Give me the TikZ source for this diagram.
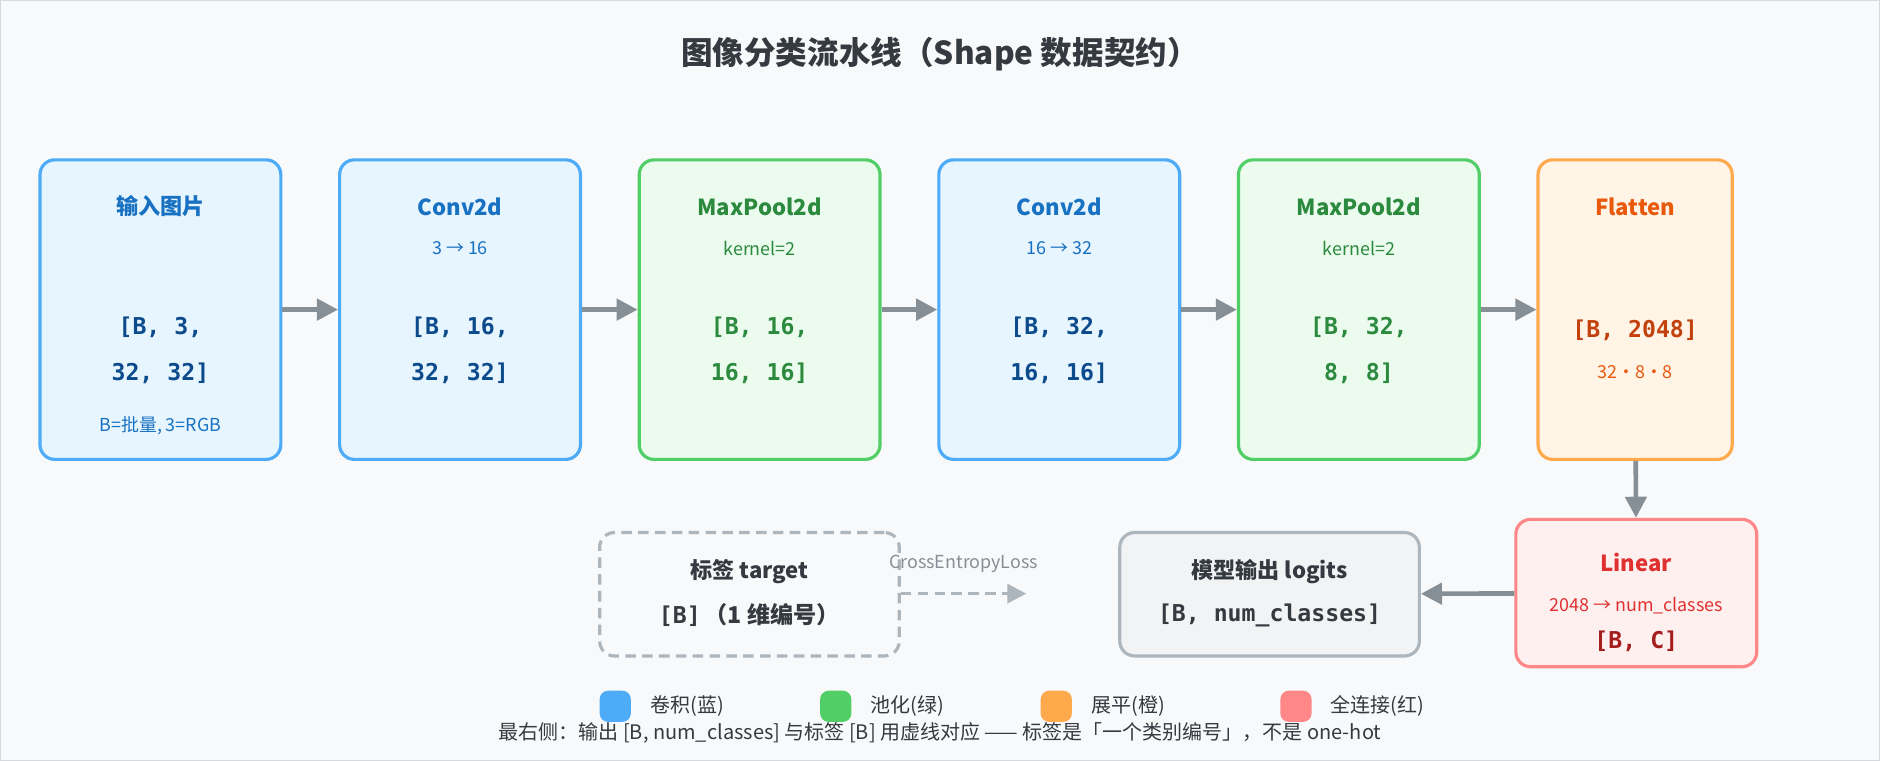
\documentclass[tikz,border=0pt]{standalone}
\usepackage{fontspec}
\setmainfont{Noto Sans CJK SC}
\setmonofont{DejaVu Sans Mono}
\usetikzlibrary{arrows.meta,positioning}
\definecolor{bg}{HTML}{F8F9FA}
\definecolor{blueB}{HTML}{4DABF7}\definecolor{blueF}{HTML}{E7F5FF}
\definecolor{blueT}{HTML}{1971C2}\definecolor{blueS}{HTML}{0B4A8B}
\definecolor{greenB}{HTML}{51CF66}\definecolor{greenF}{HTML}{EBFBEE}
\definecolor{greenT}{HTML}{2B8A3E}
\definecolor{orangeB}{HTML}{FFA94D}\definecolor{orangeF}{HTML}{FFF4E6}
\definecolor{orangeT}{HTML}{E8590C}\definecolor{orangeS}{HTML}{C2410C}
\definecolor{redB}{HTML}{FF8787}\definecolor{redF}{HTML}{FFF0F0}
\definecolor{redT}{HTML}{E03131}\definecolor{redS}{HTML}{A51E1E}
\definecolor{grayB}{HTML}{ADB5BD}\definecolor{grayF}{HTML}{F1F3F5}
\definecolor{grayT}{HTML}{343A40}\definecolor{arrowC}{HTML}{868E96}
\begin{document}
\begin{tikzpicture}[x=0.02cm,y=-0.02cm,
        box/.style={draw, line width=1.5pt, rounded corners=7pt, inner sep=0pt,
                    minimum width=4.02cm, minimum height=5cm},
        blue box/.style={box, draw=blueB, fill=blueF},
        green box/.style={box, draw=greenB, fill=greenF},
        head/.style={font=\bfseries\fontsize{10.5}{12}\selectfont},
        sub/.style={font=\fontsize{8.5}{10}\selectfont},
        dims/.style={font=\ttfamily\bfseries\fontsize{11}{22}\selectfont, align=center},
        flow/.style={draw=arrowC, line width=2.2pt, -{Triangle[length=10pt,width=10pt]}}]
        \fill[bg, draw=grayB!50](0,0)rectangle(1568,634);
        \useasboundingbox(0,0)rectangle(1568,634);
        \node[font=\bfseries\fontsize{15}{18}\selectfont, text=grayT] (title) at (784,45) {图像分类流水线（Shape 数据契约）};

        % top row
        \node[blue box ] (input) at (133.5,258) {};
        \node[blue box ] (conv1) at (383.5,258) {};
        \node[green box] (pool1) at (633.5,258) {};
        \node[blue box ] (conv2) at (883.5,258) {};
        \node[green box] (pool2) at (1133.5,258) {};
        \node[box, draw=orangeB, fill=orangeF, minimum width=3.24cm] (flat) at (1364,258) {};

        \node[head, text=blueT ] (inputT) at (133.5,172) {输入图片};
        \node[dims, text=blueS ] (inputS) at (133.5,292) {[B, 3,\\32, 32]};
        \node[sub, text=blueT  ] (inputN) at (133.5,355) {B=批量, 3=RGB};

        \node[head, text=blueT ] (conv1T) at (383.5,172) {Conv2d};
        \node[sub, text=blueT  ] (conv1N) at (383.5,207) {3 → 16};
        \node[dims, text=blueS ] (conv1S) at (383.5,292) {[B, 16,\\32, 32]};

        \node[head, text=greenT] (pool1T) at (633.5,172) {MaxPool2d};
        \node[sub, text=greenT ] (pool1N) at (633.5,207) {kernel=2};
        \node[dims, text=greenT] (pool1S) at (633.5,292) {[B, 16,\\16, 16]};

        \node[head, text=blueT ] (conv2T) at (883.5,172) {Conv2d};
        \node[sub, text=blueT  ] (conv2N) at (883.5,207) {16 → 32};
        \node[dims, text=blueS ] (conv2S) at (883.5,292) {[B, 32,\\16, 16]};

        \node[head, text=greenT] (pool2T) at (1133.5,172) {MaxPool2d};
        \node[sub, text=greenT ] (pool2N) at (1133.5,207) {kernel=2};
        \node[dims, text=greenT] (pool2S) at (1133.5,292) {[B, 32,\\8, 8]};

        \node[head, text=orangeT] (flatT) at (1364,172) {Flatten};
        \node[dims, text=orangeS] (flatS) at (1364,275) {[B, 2048]};
        \node[sub, text=orangeT ] (flatN) at (1364,310) {32·8·8};

        \draw[flow](input)--(conv1);
        \draw[flow](conv1)--(pool1);
        \draw[flow](pool1)--(conv2);
        \draw[flow](conv2)--(pool2);
        \draw[flow](pool2)--(flat);

        % bottom row
        \node[box, draw=redB, fill=redF, minimum height=2.46cm] (linear) at (1365,494.5) {};
        \node[head, text=redT] (linearT) at (1365,469) {Linear};
        \node[sub, text=redT ] (linearN) at (1365,505) {2048 → num\_classes};
        \node[dims, text=redS] (linearS) at (1365,535) {[B, C]};

        \node[box, draw=grayB, fill=grayF, minimum width=5cm, minimum height=2.06cm] (logits) at (1059,495.5) {};
        \node[head, text=grayT] (logitsT) at (1059,477) {模型输出 logits};
        \node[dims, text=grayT] (logitsS) at (1059,513) {[B, num\_classes]};

        \node[box, draw=grayB, dashed, dash pattern=on 5pt off 3pt, fill=bg, minimum width=5cm, minimum height=2.06cm] (target) at (625,495.5) {};
        \node[head, text=grayT] (targetT) at (625,477) {标签 target};
        \node[text=grayT, font=\fontsize{11}{13}\selectfont] (targetS) at (625,513) {\texttt{\bfseries[B]}\,\textbf{（1 维编号）}};

        \coordinate (lossEnd) at (856,495);
        \draw[flow](flat)--(linear);
        \draw[flow](linear)--(logits);
        \draw[flow, draw=grayB, line width=1.6pt, dash pattern=on 5pt off 3pt, -{Triangle[length=9pt,width=9pt]}](target.east|-lossEnd)--(lossEnd)
            node[midway, above=6pt, sub, text=arrowC] (lossL) {CrossEntropyLoss};

        % legend
        \foreach \x/\c/\t/\n in {500/blueB/卷积(蓝)/lgA, 684/greenB/池化(绿)/lgB, 868/orangeB/展平(橙)/lgC, 1068/redB/全连接(红)/lgD}{
          \fill[\c, rounded corners=4pt](\x,576)rectangle(\x+26,602);
          \node[anchor=west, text=grayT, font=\fontsize{9.5}{11}\selectfont] (\n) at (\x+36,589) {\t};
        }
        \node[text=grayT, font=\fontsize{9.5}{11}\selectfont] (foot) at (784,611) {最右侧：输出 [B, num\_classes] 与标签 [B] 用虚线对应 —— 标签是「一个类别编号」，不是 one-hot};
      \end{tikzpicture}
\end{document}
